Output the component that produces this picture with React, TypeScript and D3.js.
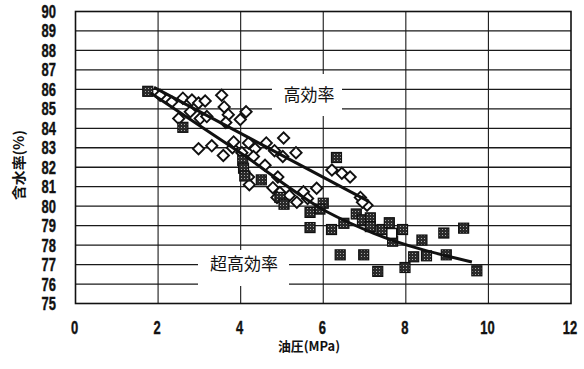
import React from "react";
import * as d3 from "d3";

// Axis ticks
const xTicks = [0, 2, 4, 6, 8, 10, 12];
const yTicks = [75, 76, 77, 78, 79, 80, 81, 82, 83, 84, 85, 86, 87, 88, 89, 90];

// 高効率: oil pressure (MPa) vs. water content (%)
const highEfficiency: [number, number][] = [
  [2.05, 85.7], [2.33, 85.35], [2.6, 85.55], [2.82, 85.45], [2.98, 85.3], [3.14, 85.4],
  [2.5, 84.5], [2.78, 84.85], [3.02, 84.5], [3.18, 84.6], [3.54, 85.7], [3.6, 85.1],
  [3.7, 84.7], [3.64, 84.3], [3.99, 84.45], [4.13, 84.85], [2.98, 82.95], [3.3, 83.1],
  [3.58, 82.6], [3.8, 83.0], [4.03, 82.75], [3.83, 83.3], [4.19, 83.25], [4.35, 82.95],
  [4.31, 82.55], [4.62, 83.25], [4.82, 82.85], [5.04, 83.5], [5.02, 82.55], [5.34, 82.75],
  [4.59, 82.1], [4.19, 81.5], [4.21, 81.1], [4.9, 81.5], [4.78, 80.95], [4.95, 80.7],
  [4.88, 80.45], [5.18, 80.55], [5.52, 80.74], [5.84, 80.92], [5.62, 80.4], [5.36, 80.2],
  [6.21, 81.86], [6.45, 81.69], [6.65, 81.5], [6.9, 80.45], [7.06, 80.05], [6.95, 80.2],
];

// 超高効率: oil pressure (MPa) vs. water content (%)
const ultraHighEfficiency: [number, number][] = [
  [1.75, 85.9], [2.6, 84.05], [4.05, 82.35], [4.07, 81.95], [4.1, 81.55], [4.5, 81.35],
  [4.95, 80.45], [5.05, 80.1], [5.68, 79.68], [5.68, 78.9], [6.0, 80.15], [5.92, 79.85],
  [6.2, 78.8], [6.32, 82.5], [6.5, 79.12], [6.8, 79.6], [6.95, 79.3], [7.14, 79.4],
  [7.14, 78.95], [7.42, 78.8], [7.6, 79.15], [7.68, 78.2], [7.92, 78.8], [8.39, 78.26],
  [8.92, 78.62], [9.4, 78.87], [8.19, 77.4], [8.5, 77.45], [8.98, 77.5], [6.41, 77.5],
  [6.98, 77.5], [7.32, 76.65], [7.98, 76.85], [9.72, 76.68],
];
const openPoints: [number, number][] = [[7.66, 78.6]];

// Trend lines
const highTrend: [number, number][] = [[1.9, 86.1], [7.1, 80.25]];
const ultraTrend: [number, number][] = [
  [1.82, 85.81], [4.0, 82.73], [6.1, 79.7], [7.21, 78.62], [9.6, 77.13],
];

const W = 584;
const H = 369;
const PL = 75.5, PR = 571, PT = 11.5, PB = 303.5;

const x = d3.scaleLinear().domain([0, 12]).range([PL, PR]);
const y = d3.scaleLinear().domain([75, 90]).range([PB, PT]);

const numFont = "'Liberation Sans', Arial, sans-serif";
const cjkFont = "'Noto Sans CJK JP', 'Noto Sans CJK SC', sans-serif";

function NarrowNum({ px, py, text, anchor }: { px: number; py: number; text: string; anchor: string }) {
  return (
    <text
      transform={`translate(${px},${py}) scale(0.72,1)`}
      textAnchor={anchor}
      fontFamily={numFont}
      fontWeight="bold"
      fontSize={18}
      fill="#111"
      stroke="#111"
      strokeWidth={0.4}
    >
      {text}
    </text>
  );
}

export default function App() {
  const lineGen = d3.line<[number, number]>().x((d) => x(d[0])).y((d) => y(d[1]));
  const curveGen = d3
    .line<[number, number]>()
    .x((d) => x(d[0]))
    .y((d) => y(d[1]))
    .curve(d3.curveMonotoneX);

  const sq = 10;
  const dm = 8;

  return (
    <svg
      width={W}
      height={H}
      viewBox={`0 0 ${W} ${H}`}
      style={{ position: "fixed", left: 0, top: 0, background: "#fff" }}
    >
      <defs>
        <pattern id="speckle" width="3" height="3" patternUnits="userSpaceOnUse">
          <rect width="3" height="3" fill="#2a2a2a" />
          <rect x="1" y="1" width="1" height="1" fill="#aaa" />
        </pattern>
      </defs>
      <rect width={W} height={H} fill="#fff" />

      {/* horizontal grid */}
      {yTicks.slice(1, -1).map((t) => (
        <line key={`h${t}`} x1={PL} x2={PR} y1={y(t)} y2={y(t)} stroke="#1a1a1a" strokeWidth={1.3} />
      ))}
      {/* vertical grid */}
      {xTicks.slice(1, -1).map((t) => (
        <line key={`v${t}`} x1={x(t)} x2={x(t)} y1={PT} y2={PB} stroke="#1a1a1a" strokeWidth={1.1} />
      ))}

      {/* label backgrounds */}
      <rect x={272} y={74} width={70} height={42} fill="#fff" />
      <rect x={198} y={250} width={91} height={36} fill="#fff" />

      {/* plot frame */}
      <rect x={PL} y={PT} width={PR - PL} height={PB - PT} fill="none" stroke="#111" strokeWidth={1.6} />

      {/* 高効率 markers */}
      {highEfficiency.map((d, i) => (
        <rect
          key={`d${i}`}
          x={-dm / 2}
          y={-dm / 2}
          width={dm}
          height={dm}
          transform={`translate(${x(d[0])},${y(d[1])}) rotate(45)`}
          fill="#fff"
          stroke="#111"
          strokeWidth={1.9}
        />
      ))}

      {/* 超高効率 markers */}
      {ultraHighEfficiency.map((d, i) => (
        <rect
          key={`s${i}`}
          x={x(d[0]) - sq / 2}
          y={y(d[1]) - sq / 2}
          width={sq}
          height={sq}
          fill="url(#speckle)"
          stroke="#111"
          strokeWidth={1.2}
        />
      ))}
      {openPoints.map((d, i) => (
        <rect
          key={`o${i}`}
          x={x(d[0]) - sq / 2}
          y={y(d[1]) - sq / 2}
          width={sq}
          height={sq}
          fill="#fff"
          stroke="#111"
          strokeWidth={1.6}
        />
      ))}

      {/* trend lines */}
      <path d={lineGen(highTrend) || ""} fill="none" stroke="#111" strokeWidth={3} />
      <path d={curveGen(ultraTrend) || ""} fill="none" stroke="#111" strokeWidth={3} />

      {/* series labels */}
      <text x={309} y={101} textAnchor="middle" fontFamily={cjkFont} fontSize={17} fill="#111">
        高効率
      </text>
      <text x={244} y={270} textAnchor="middle" fontFamily={cjkFont} fontSize={17} fill="#111">
        超高効率
      </text>

      {/* y tick labels */}
      {yTicks.map((t) => (
        <NarrowNum key={`yl${t}`} px={56} py={y(t) + 6.5} text={String(t)} anchor="end" />
      ))}
      {/* x tick labels */}
      {xTicks.map((t) => (
        <NarrowNum key={`xl${t}`} px={x(t) - 1} py={334} text={String(t)} anchor="middle" />
      ))}

      {/* axis titles */}
      <text
        x={309}
        y={351}
        textAnchor="middle"
        fontFamily={cjkFont}
        fontWeight="bold"
        fontSize={13}
        textLength={62}
        lengthAdjust="spacingAndGlyphs"
        fill="#111"
      >
        油圧(MPa)
      </text>
      <text
        transform="translate(24,165) rotate(-90)"
        textAnchor="middle"
        fontFamily={cjkFont}
        fontWeight="bold"
        fontSize={14}
        textLength={70}
        lengthAdjust="spacingAndGlyphs"
        fill="#111"
      >
        含水率(%)
      </text>
    </svg>
  );
}
